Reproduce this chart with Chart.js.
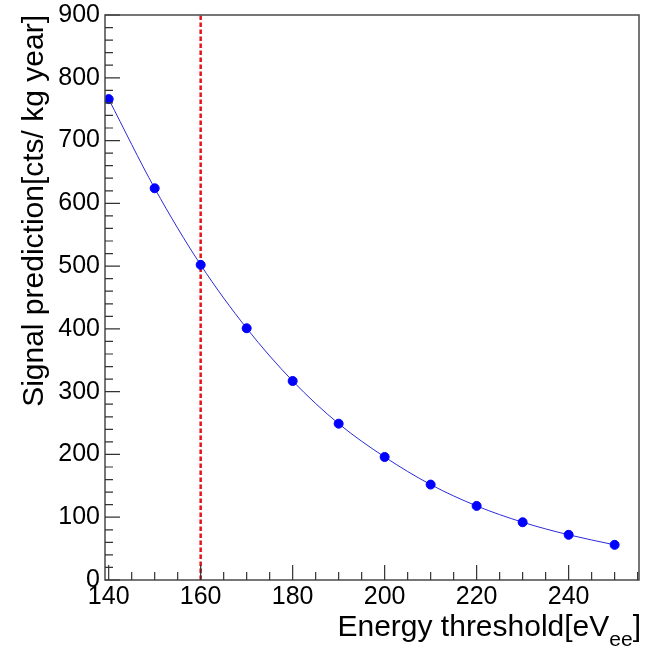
<!DOCTYPE html>
<html>
<head>
<meta charset="utf-8">
<script src="https://cdn.jsdelivr.net/npm/chart.js@4.4.1/dist/chart.umd.min.js"></script>
<style>
  html, body { margin: 0; padding: 0; background: #fff; }
  #wrap { width: 652px; height: 648px; }
</style>
</head>
<body>
<div id="wrap"><canvas id="ctx" width="652" height="648"></canvas></div>
<script>
// energy threshold (eVee) and predicted signal (cts / kg year)
const thresholds = [140, 150, 160, 170, 180, 190, 200, 210, 220, 230, 240, 250];
const signal = [766, 624, 502, 401, 317, 249, 196, 152, 118, 92, 72, 56];

// chosen threshold, marked by the dashed line
const cutX = 160;

const xTicks = [140, 160, 180, 200, 220, 240];
const yTicks = [0, 100, 200, 300, 400, 500, 600, 700, 800, 900];
const xRange = [139.2, 255.3];
const yRange = [0, 900];

const FONT = '"Liberation Sans", Arial, Helvetica, sans-serif';

// ROOT-style frame with ticks pointing into the pad, plus axis titles
const frameAndTitles = {
  id: 'frameAndTitles',
  afterDraw(chart) {
    const { ctx, chartArea: a, scales: { x, y } } = chart;
    ctx.save();
    ctx.strokeStyle = '#4a4a4a';
    ctx.lineWidth = 1.5;
    ctx.strokeRect(a.left, a.top, a.right - a.left, a.bottom - a.top);

    ctx.lineWidth = 1.2;
    ctx.strokeStyle = '#333';
    ctx.beginPath();
    for (let v = 140; v <= xRange[1]; v += 5) {
      const px = x.getPixelForValue(v);
      const len = v % 20 === 0 ? 15 : 8;
      ctx.moveTo(px, a.bottom);
      ctx.lineTo(px, a.bottom - len);
    }
    for (let v = yRange[0]; v <= yRange[1]; v += 20) {
      const py = y.getPixelForValue(v);
      const len = v % 100 === 0 ? 15 : 8;
      ctx.moveTo(a.left, py);
      ctx.lineTo(a.left + len, py);
    }
    ctx.stroke();

    ctx.fillStyle = '#000';
    // x title, right aligned at the end of the axis, with subscript
    ctx.textBaseline = 'alphabetic';
    ctx.textAlign = 'left';
    const main = 'Energy threshold[eV';
    const sub = 'ee';
    const close = ']';
    ctx.font = '21px ' + FONT;
    const wSub = ctx.measureText(sub).width;
    ctx.font = '30px ' + FONT;
    const wMain = ctx.measureText(main).width;
    const wClose = ctx.measureText(close).width;
    let tx = a.right + 2 - (wMain + wSub + wClose);
    const ty = 636;
    ctx.fillText(main, tx, ty);
    tx += wMain;
    ctx.font = '21px ' + FONT;
    ctx.fillText(sub, tx, ty + 10);
    tx += wSub;
    ctx.font = '30px ' + FONT;
    ctx.fillText(close, tx, ty);

    // y title, rotated, right aligned at the top of the axis
    ctx.save();
    ctx.translate(43, a.top);
    ctx.rotate(-Math.PI / 2);
    ctx.textAlign = 'right';
    ctx.fillText('Signal prediction[cts/ kg year]', 0, 0);
    ctx.restore();
    ctx.restore();
  }
};

new Chart(document.getElementById('ctx'), {
  type: 'line',
  data: {
    datasets: [
      {
        data: thresholds.map((t, i) => ({ x: t, y: signal[i] })),
        borderColor: '#2a2ad8',
        borderWidth: 1,
        backgroundColor: '#0000ff',
        pointBackgroundColor: '#0000ff',
        pointBorderColor: '#0000ff',
        pointRadius: 4.5,
        cubicInterpolationMode: 'monotone',
        fill: false
      },
      {
        data: [{ x: cutX, y: yRange[0] }, { x: cutX, y: yRange[1] }],
        borderColor: '#e3141b',
        borderWidth: 2.5,
        borderDash: [4.5, 2.5],
        pointRadius: 0,
        fill: false
      }
    ]
  },
  options: {
    responsive: false,
    animation: false,
    layout: { padding: { top: 0, right: 13, left: 0, bottom: 0 } },
    plugins: { legend: { display: false }, tooltip: { enabled: false } },
    scales: {
      x: {
        type: 'linear',
        min: xRange[0],
        max: xRange[1],
        grid: { display: false, drawTicks: false },
        border: { display: false },
        ticks: {
          font: { family: FONT, size: 25, lineHeight: 1 },
          color: '#000',
          padding: 5,
          maxRotation: 0
        },
        afterBuildTicks(scale) { scale.ticks = xTicks.map(v => ({ value: v })); },
        afterFit(scale) { scale.height = 68; }
      },
      y: {
        min: yRange[0],
        max: yRange[1],
        grid: { display: false, drawTicks: false },
        border: { display: false },
        ticks: {
          font: { family: FONT, size: 25, lineHeight: 1 },
          color: '#000',
          padding: 5
        },
        afterBuildTicks(scale) { scale.ticks = yTicks.map(v => ({ value: v })); },
        afterFit(scale) { scale.width = 105; scale.paddingTop = 15; }
      }
    }
  },
  plugins: [frameAndTitles]
});
</script>
</body>
</html>
